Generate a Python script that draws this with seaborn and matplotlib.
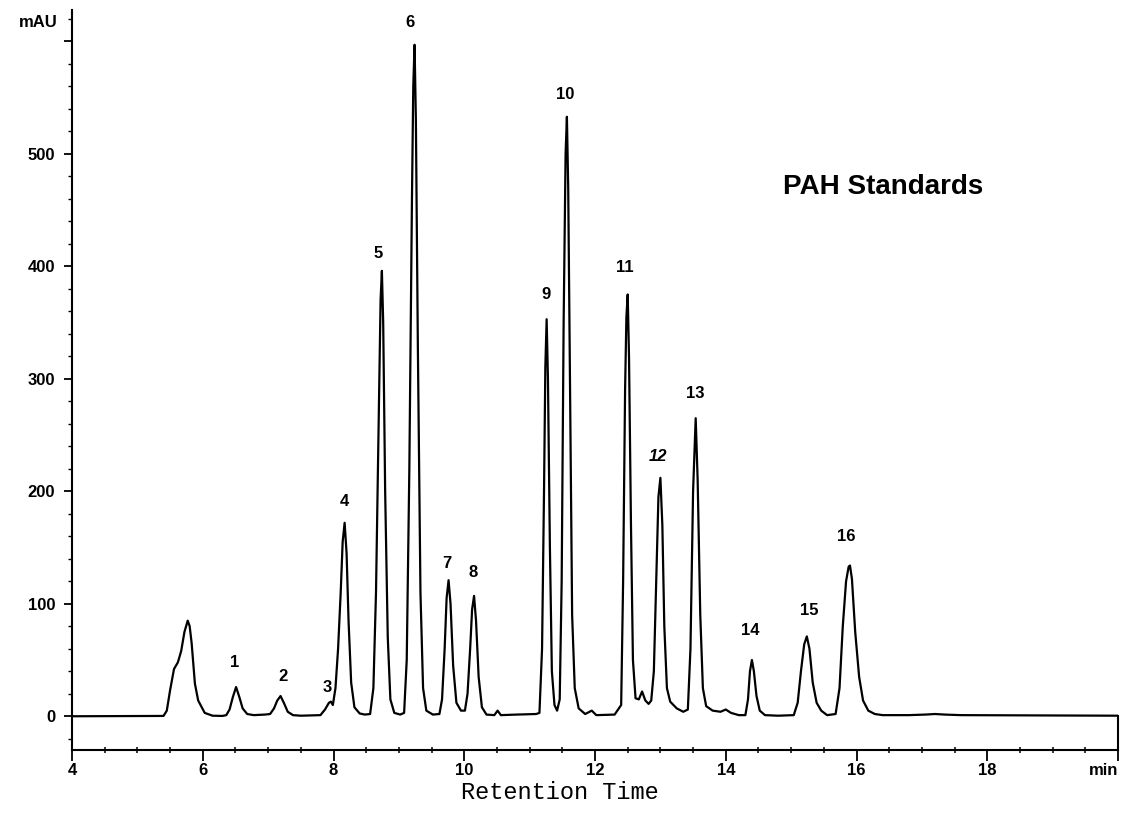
import pandas as pd
import matplotlib
matplotlib.use("Agg")
import matplotlib.pyplot as plt
import matplotlib.transforms as mtransforms
import seaborn as sns

# trace (min, mAU)
time_min = [
    4.00, 5.40, 5.45, 5.50, 5.56, 5.62, 5.67, 5.72, 5.77, 5.80, 5.83, 5.88, 5.93, 6.03, 6.15, 6.30,
    6.36, 6.41, 6.46, 6.51, 6.56, 6.61, 6.68, 6.78, 6.95,
    7.03, 7.09, 7.14, 7.19, 7.24, 7.30, 7.38, 7.50,
    7.80, 7.87, 7.93, 7.96, 7.99, 8.03, 8.07, 8.11, 8.14, 8.17, 8.20, 8.23, 8.27, 8.32, 8.40, 8.48,
    8.56, 8.61, 8.65, 8.69, 8.72, 8.74, 8.76, 8.79, 8.83, 8.87, 8.93, 9.02,
    9.08, 9.12, 9.16, 9.20, 9.22, 9.24, 9.26, 9.29, 9.33, 9.37, 9.42, 9.52,
    9.62, 9.66, 9.70, 9.73, 9.76, 9.79, 9.83, 9.88, 9.95, 10.01, 10.05, 10.09, 10.12, 10.15, 10.18,
    10.22, 10.27, 10.34,
    10.46, 10.51, 10.56, 10.80, 11.10,
    11.15, 11.19, 11.22, 11.24, 11.26, 11.28, 11.31, 11.34, 11.38, 11.42,
    11.46, 11.49, 11.52, 11.55, 11.57, 11.59, 11.62, 11.65, 11.69, 11.75, 11.85,
    11.95, 12.02, 12.30,
    12.40, 12.43, 12.46, 12.48, 12.50, 12.52, 12.55, 12.58, 12.62, 12.67, 12.72, 12.77, 12.82,
    12.86, 12.90, 12.94, 12.97, 13.00, 13.03, 13.06, 13.10, 13.15, 13.25, 13.35, 13.42, 13.46,
    13.50, 13.54, 13.57, 13.61, 13.65, 13.70, 13.80, 13.92, 14.00, 14.08, 14.20,
    14.30, 14.34, 14.37, 14.40, 14.43, 14.47, 14.52, 14.60, 14.80,
    15.04, 15.10, 15.15, 15.20, 15.24, 15.28, 15.33, 15.39, 15.46, 15.55,
    15.68, 15.74, 15.79, 15.84, 15.88, 15.90, 15.93, 15.98, 16.04, 16.10, 16.18, 16.28, 16.40,
    16.80, 17.05, 17.20, 17.35, 17.60, 20.00,
]
signal_mau = [
    0, 0.3, 5, 23, 42, 48, 58, 75, 85, 80, 65, 29, 14, 3, 0.5, 0.3,
    1, 6, 17, 26, 17, 7, 2, 1, 1.5,
    2, 7, 14, 18, 12, 4, 1, 0.5,
    1, 6, 12, 13, 10, 25, 60, 110, 155, 172, 145, 85, 30, 8, 2.5, 1.5,
    2, 25, 110, 260, 370, 396, 350, 200, 70, 15, 3, 1.5,
    3, 50, 220, 460, 560, 597, 530, 330, 110, 25, 5, 1.5,
    2, 15, 60, 105, 121, 100, 45, 12, 5, 5, 20, 60, 95, 107, 85,
    35, 8, 1.5,
    1, 5, 1, 1.5, 2,
    3, 60, 200, 310, 353, 300, 150, 40, 10, 5,
    15, 120, 350, 500, 533, 470, 280, 90, 25, 7, 2,
    5, 1, 1.5,
    10, 120, 290, 355, 375, 320, 170, 50, 16, 15, 22, 14, 11,
    14, 40, 130, 195, 212, 170, 80, 25, 13, 7, 4, 6, 60,
    200, 265, 210, 90, 25, 9, 5, 4, 6, 3, 1,
    1, 15, 40, 50, 40, 18, 5, 1, 0.5,
    1, 12, 40, 64, 71, 60, 30, 12, 5, 1,
    2, 25, 80, 120, 133, 134, 122, 75, 35, 14, 5, 2, 1,
    1, 1.5, 2, 1.5, 1, 0.5,
]

# peak numbers and where their labels sit
peak_ids = [str(i) for i in range(1, 17)]
label_t = [6.48, 7.23, 7.90, 8.16, 8.68, 9.17, 9.73, 10.13, 11.25, 11.54,
           12.46, 12.96, 13.53, 14.37, 15.27, 15.84]
label_v = [48, 35, 26, 191, 411, 617, 136, 128, 375, 553,
           399, 231, 287, 76, 94, 160]

x_ticks = [4, 6, 8, 10, 12, 14, 16, 18, 20]
x_ticklabels = ['4', '6', '8', '10', '12', '14', '16', '18', 'min']
y_ticks = [0, 100, 200, 300, 400, 500, 600]
y_ticklabels = ['0', '100', '200', '300', '400', '500', '']

df = pd.DataFrame({'t': time_min, 'mAU': signal_mau})

sns.set_style("ticks")
plt.rcParams['font.family'] = ['Liberation Sans', 'DejaVu Sans']
plt.rcParams['text.color'] = 'black'
plt.rcParams['axes.labelcolor'] = 'black'
plt.rcParams['xtick.color'] = 'black'
plt.rcParams['ytick.color'] = 'black'

fig, ax = plt.subplots(figsize=(11.25, 8.26), dpi=100)
fig.subplots_adjust(left=0.064, right=0.9938, bottom=0.092, top=0.988)

sns.lineplot(data=df, x='t', y='mAU', sort=False, estimator=None,
             color='black', linewidth=1.6, ax=ax)

ax.set_xlim(4, 20)
ax.set_ylim(-30, 628)

ax.set_xticks(x_ticks)
ax.set_xticklabels(x_ticklabels, fontsize=12, fontweight='bold')
ax.get_xticklabels()[-1].set_ha('right')
ax.set_xticks([t / 2 for t in range(8, 40)], minor=True)
ax.set_yticks(y_ticks)
ax.set_yticklabels(y_ticklabels, fontsize=12, fontweight='bold')
ax.set_yticks(list(range(-20, 621, 20)), minor=True)

ax.tick_params(axis='x', which='major', direction='out', length=8, width=1.3, pad=1.5)
ax.tick_params(axis='x', which='minor', direction='inout', length=5, width=1.1)
ax.tick_params(axis='y', which='major', direction='out', length=6, width=1.3, pad=6)
ax.tick_params(axis='y', which='minor', direction='out', length=3, width=1.0)

sns.despine(ax=ax, top=True, right=False)
ax.spines['right'].set_bounds(-30, 0)
for side in ['left', 'bottom', 'right']:
    ax.spines[side].set_linewidth(1.5)
    ax.spines[side].set_color('black')

ax.set_ylabel('')
ax.set_xlabel('Retention Time', fontsize=17, fontfamily='Liberation Mono')
ax.xaxis.set_label_coords(0.4665, -0.042)

# unit label at the top of the y axis
trans = mtransforms.blended_transform_factory(ax.transAxes, ax.transData)
ax.text(-0.014, 617, 'mAU', transform=trans, ha='right', va='center',
        fontsize=12, fontweight='bold')

for pid, t, v in zip(peak_ids, label_t, label_v):
    style = 'italic' if pid == '12' else 'normal'
    ax.text(t, v, pid, ha='center', va='center', fontsize=12,
            fontweight='bold', fontstyle=style)

ax.text(16.4, 471, 'PAH Standards', ha='center', va='center',
        fontsize=20, fontweight='bold')

fig.savefig('out.png', dpi=100)
